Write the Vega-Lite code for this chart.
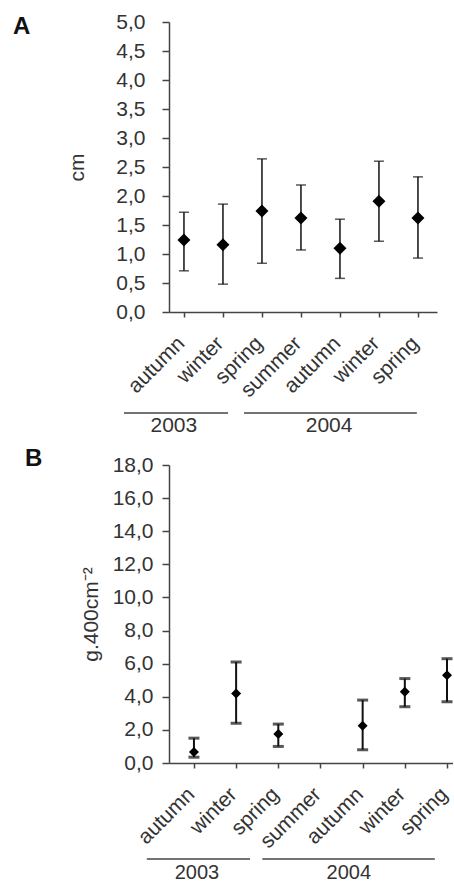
{
  "$schema": "https://vega.github.io/schema/vega-lite/v6.json",
  "padding": {"left": 13, "top": 11, "right": 0, "bottom": 0},
  "spacing": 153,
  "bounds": "flush",
  "config": {
    "view": {"stroke": null},
    "font": "Liberation Sans",
    "axis": {
      "domainColor": "#444", "domainWidth": 1.5, "tickColor": "#444", "tickWidth": 1.5,
      "labelFont": "Liberation Sans", "labelFontSize": 21, "labelColor": "#333", "labelOverlap": false,
      "titleFont": "Liberation Sans", "titleFontSize": 21, "titleColor": "#333", "titleFontWeight": "normal",
      "grid": false
    },
    "title": {"font": "Liberation Sans", "fontSize": 24, "fontWeight": "bold", "color": "#111", "anchor": "start", "frame": "group"}
  },
  "datasets": {
    "a": [
      {"period": "autumn 2003", "mean": 1.24, "lo": 0.71, "hi": 1.72},
      {"period": "winter 2003", "mean": 1.16, "lo": 0.48, "hi": 1.86},
      {"period": "spring 2003", "mean": 1.74, "lo": 0.84, "hi": 2.64},
      {"period": "summer 2004", "mean": 1.62, "lo": 1.07, "hi": 2.19},
      {"period": "autumn 2004", "mean": 1.10, "lo": 0.58, "hi": 1.60},
      {"period": "winter 2004", "mean": 1.91, "lo": 1.22, "hi": 2.60},
      {"period": "spring 2004", "mean": 1.62, "lo": 0.93, "hi": 2.33}
    ],
    "b": [
      {"period": "autumn 2003", "mean": 0.66, "lo": 0.35, "hi": 1.5},
      {"period": "winter 2003", "mean": 4.2, "lo": 2.4, "hi": 6.1},
      {"period": "spring 2003", "mean": 1.75, "lo": 1.0, "hi": 2.35},
      {"period": "autumn 2004", "mean": 2.25, "lo": 0.8, "hi": 3.8},
      {"period": "winter 2004", "mean": 4.3, "lo": 3.4, "hi": 5.1},
      {"period": "spring 2004", "mean": 5.3, "lo": 3.7, "hi": 6.3}
    ],
    "yearsA": [
      {"year": "2003", "start": -1.54, "end": 1.13, "mid": -0.26},
      {"year": "2004", "start": 1.54, "end": 5.97, "mid": 3.72}
    ],
    "yearsB": [
      {"year": "2003", "start": -1.12, "end": 1.33, "mid": 0.07},
      {"year": "2004", "start": 1.62, "end": 5.71, "mid": 3.67}
    ]
  },
  "vconcat": [
    {
      "width": 268,
      "height": 290,
      "title": {"text": "A", "dx": -156, "dy": 32},
      "layer": [
        {
          "data": {"name": "a"},
          "layer": [
            {
              "mark": {"type": "rule", "strokeWidth": 1.5, "color": "#111"},
              "encoding": {
                "x": {"field": "period", "type": "nominal", "sort": null,
                  "scale": {"type": "point", "domain": ["autumn 2003", "winter 2003", "spring 2003", "summer 2004", "autumn 2004", "winter 2004", "spring 2004"], "padding": 0.436, "align": 0.44},
                  "axis": {"title": null, "labelExpr": "split(datum.label, ' ')[0]", "labelAngle": -45, "labelAlign": "right", "labelBaseline": "middle", "labelPadding": 23, "labelOffset": -3, "tickSize": 5, "labelOverlap": false}},
                "y": {"field": "lo", "type": "quantitative",
                  "scale": {"domain": [0, 5], "nice": false, "zero": false},
                  "axis": {"title": "cm", "values": [0, 0.5, 1, 1.5, 2, 2.5, 3, 3.5, 4, 4.5, 5], "labelExpr": "replace(format(datum.value, '.1f'), '.', ',')", "tickSize": 7, "labelPadding": 17, "titlePadding": 28, "labelOverlap": false}},
                "y2": {"field": "hi"}
              }
            },
            {
              "mark": {"type": "tick", "thickness": 1.5, "size": 10, "color": "#111"},
              "encoding": {"x": {"field": "period", "type": "nominal", "sort": null},
                "y": {"field": "lo", "type": "quantitative", "axis": {"title": "cm", "values": [0, 0.5, 1, 1.5, 2, 2.5, 3, 3.5, 4, 4.5, 5], "labelExpr": "replace(format(datum.value, '.1f'), '.', ',')", "tickSize": 7, "labelPadding": 17, "titlePadding": 28, "labelOverlap": false}}}
            },
            {
              "mark": {"type": "tick", "thickness": 1.5, "size": 10, "color": "#111"},
              "encoding": {"x": {"field": "period", "type": "nominal", "sort": null},
                "y": {"field": "hi", "type": "quantitative", "axis": {"title": "cm", "values": [0, 0.5, 1, 1.5, 2, 2.5, 3, 3.5, 4, 4.5, 5], "labelExpr": "replace(format(datum.value, '.1f'), '.', ',')", "tickSize": 7, "labelPadding": 17, "titlePadding": 28, "labelOverlap": false}}}
            },
            {
              "mark": {"type": "point", "shape": "diamond", "filled": true, "size": 169, "color": "#000", "opacity": 1},
              "encoding": {"x": {"field": "period", "type": "nominal", "sort": null},
                "y": {"field": "mean", "type": "quantitative", "axis": {"title": "cm", "values": [0, 0.5, 1, 1.5, 2, 2.5, 3, 3.5, 4, 4.5, 5], "labelExpr": "replace(format(datum.value, '.1f'), '.', ',')", "tickSize": 7, "labelPadding": 17, "titlePadding": 28, "labelOverlap": false}}}
            }
          ]
        },
        {
          "data": {"name": "yearsA"},
          "layer": [
            {
              "mark": {"type": "rule", "strokeWidth": 1.5, "color": "#444"},
              "encoding": {
                "x": {"field": "start", "type": "quantitative", "scale": {"domain": [-0.385, 6.487], "nice": false, "zero": false}, "axis": null},
                "x2": {"field": "end"},
                "y": {"datum": -1.74, "type": "quantitative", "axis": {"title": "cm", "values": [0, 0.5, 1, 1.5, 2, 2.5, 3, 3.5, 4, 4.5, 5], "labelExpr": "replace(format(datum.value, '.1f'), '.', ',')", "tickSize": 7, "labelPadding": 17, "titlePadding": 28, "labelOverlap": false}}
              }
            },
            {
              "mark": {"type": "text", "fontSize": 21, "color": "#333", "baseline": "middle", "font": "Liberation Sans"},
              "encoding": {
                "x": {"field": "mid", "type": "quantitative", "axis": null},
                "y": {"datum": -1.97, "type": "quantitative", "axis": {"title": "cm", "values": [0, 0.5, 1, 1.5, 2, 2.5, 3, 3.5, 4, 4.5, 5], "labelExpr": "replace(format(datum.value, '.1f'), '.', ',')", "tickSize": 7, "labelPadding": 17, "titlePadding": 28, "labelOverlap": false}},
                "text": {"field": "year"}
              }
            }
          ]
        }
      ],
      "resolve": {"scale": {"x": "independent"}, "axis": {"x": "independent"}}
    },
    {
      "width": 284,
      "height": 298,
      "title": {"text": "B", "dx": -144, "dy": 21},
      "layer": [
        {
          "data": {"name": "b"},
          "layer": [
            {
              "mark": {"type": "rule", "strokeWidth": 2, "color": "#111"},
              "encoding": {
                "x": {"field": "period", "type": "nominal", "sort": null,
                  "scale": {"type": "point", "domain": ["autumn 2003", "winter 2003", "spring 2003", "summer 2004", "autumn 2004", "winter 2004", "spring 2004"], "padding": 0.367, "align": 0.806},
                  "axis": {"title": null, "labelExpr": "split(datum.label, ' ')[0]", "labelAngle": -45, "labelAlign": "right", "labelBaseline": "middle", "labelPadding": 23, "labelOffset": -3, "tickSize": 5, "labelOverlap": false}},
                "y": {"field": "lo", "type": "quantitative",
                  "scale": {"domain": [0, 18], "nice": false, "zero": false},
                  "axis": {"title": "g.400cm⁻²", "values": [0, 2, 4, 6, 8, 10, 12, 14, 16, 18], "labelExpr": "replace(format(datum.value, '.1f'), '.', ',')", "tickSize": 7, "labelPadding": 9, "titlePadding": 11, "labelOverlap": false}},
                "y2": {"field": "hi"}
              }
            },
            {
              "mark": {"type": "tick", "thickness": 3, "size": 11, "color": "#111"},
              "encoding": {"x": {"field": "period", "type": "nominal", "sort": null},
                "y": {"field": "lo", "type": "quantitative", "axis": {"title": "g.400cm⁻²", "values": [0, 2, 4, 6, 8, 10, 12, 14, 16, 18], "labelExpr": "replace(format(datum.value, '.1f'), '.', ',')", "tickSize": 7, "labelPadding": 9, "titlePadding": 11, "labelOverlap": false}}}
            },
            {
              "mark": {"type": "tick", "thickness": 3, "size": 11, "color": "#111"},
              "encoding": {"x": {"field": "period", "type": "nominal", "sort": null},
                "y": {"field": "hi", "type": "quantitative", "axis": {"title": "g.400cm⁻²", "values": [0, 2, 4, 6, 8, 10, 12, 14, 16, 18], "labelExpr": "replace(format(datum.value, '.1f'), '.', ',')", "tickSize": 7, "labelPadding": 9, "titlePadding": 11, "labelOverlap": false}}}
            },
            {
              "mark": {"type": "point", "shape": "diamond", "filled": true, "size": 100, "color": "#000", "opacity": 1},
              "encoding": {"x": {"field": "period", "type": "nominal", "sort": null},
                "y": {"field": "mean", "type": "quantitative", "axis": {"title": "g.400cm⁻²", "values": [0, 2, 4, 6, 8, 10, 12, 14, 16, 18], "labelExpr": "replace(format(datum.value, '.1f'), '.', ',')", "tickSize": 7, "labelPadding": 9, "titlePadding": 11, "labelOverlap": false}}}
            }
          ]
        },
        {
          "data": {"name": "yearsB"},
          "layer": [
            {
              "mark": {"type": "rule", "strokeWidth": 1.5, "color": "#444"},
              "encoding": {
                "x": {"field": "start", "type": "quantitative", "scale": {"domain": [-0.593, 6.142], "nice": false, "zero": false}, "axis": null},
                "x2": {"field": "end"},
                "y": {"datum": -5.8, "type": "quantitative", "axis": {"title": "g.400cm⁻²", "values": [0, 2, 4, 6, 8, 10, 12, 14, 16, 18], "labelExpr": "replace(format(datum.value, '.1f'), '.', ',')", "tickSize": 7, "labelPadding": 9, "titlePadding": 11, "labelOverlap": false}}
              }
            },
            {
              "mark": {"type": "text", "fontSize": 20, "color": "#333", "baseline": "middle", "font": "Liberation Sans"},
              "encoding": {
                "x": {"field": "mid", "type": "quantitative", "axis": null},
                "y": {"datum": -6.65, "type": "quantitative", "axis": {"title": "g.400cm⁻²", "values": [0, 2, 4, 6, 8, 10, 12, 14, 16, 18], "labelExpr": "replace(format(datum.value, '.1f'), '.', ',')", "tickSize": 7, "labelPadding": 9, "titlePadding": 11, "labelOverlap": false}},
                "text": {"field": "year"}
              }
            }
          ]
        }
      ],
      "resolve": {"scale": {"x": "independent"}, "axis": {"x": "independent"}}
    }
  ]
}
